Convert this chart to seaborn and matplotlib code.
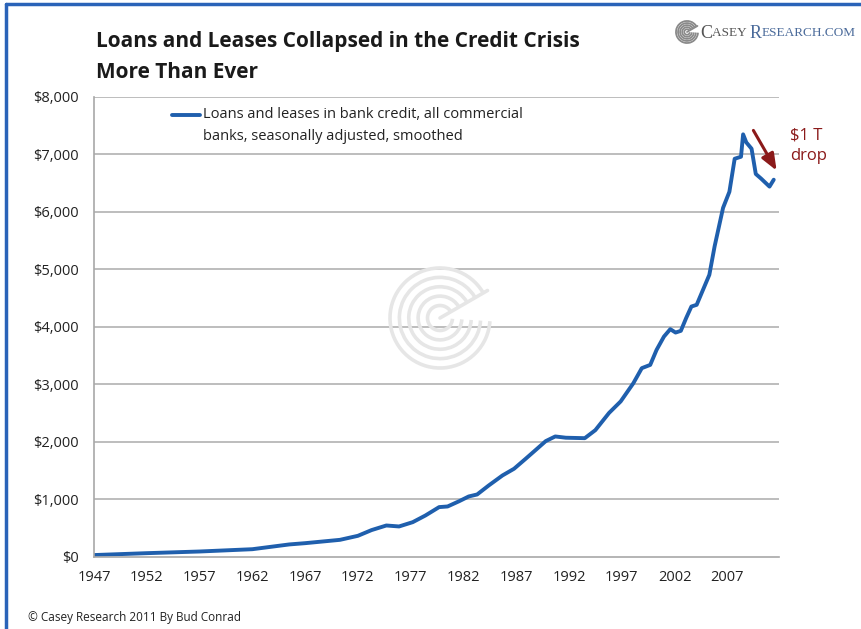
import numpy as np
import pandas as pd
import matplotlib
matplotlib.use("Agg")
import matplotlib.pyplot as plt
from matplotlib.patches import Arc, FancyArrowPatch
from matplotlib.lines import Line2D
import seaborn as sns

# Loans and leases in bank credit, all commercial banks ($ billions)
years = [1947, 1952, 1957, 1962, 1965.5, 1967, 1970.3, 1972, 1973.3, 1974.7,
         1975.9, 1977.2, 1978.4, 1979.7, 1980.5, 1981.6, 1982.5, 1983.3, 1984.4,
         1985.7, 1986.8, 1987.9, 1988.8, 1989.8, 1990.7, 1991.7, 1993.5, 1994.5,
         1995.8, 1996.9, 1998.1, 1998.9, 1999.7, 2000.3, 2001.0, 2001.6, 2002.1,
         2002.6, 2003.1, 2003.6, 2004.1, 2004.7, 2005.3, 2005.8, 2006.6, 2007.2,
         2007.7, 2008.3, 2008.5, 2008.8, 2009.3, 2009.7, 2010.2, 2011.0, 2011.4]
loans = [25, 58, 87, 127, 210, 232, 290, 360, 460, 540,
         523, 598, 714, 860, 871, 963, 1045, 1080, 1237,
         1411, 1528, 1702, 1847, 2009, 2090, 2068, 2060, 2200,
         2500, 2700, 3017, 3279, 3336, 3597, 3829, 3958, 3899,
         3929, 4150, 4352, 4382, 4643, 4904, 5400, 6070, 6350,
         6925, 6960, 7350, 7210, 7100, 6660, 6580, 6440, 6560]

x_ticks = list(range(1947, 2008, 5))
y_ticks = list(range(0, 8001, 1000))

title_lines = ["Loans and Leases Collapsed in the Credit Crisis", "More Than Ever"]
legend_text = ["Loans and leases in bank credit, all commercial",
               "banks, seasonally adjusted, smoothed"]
note_text = "$1 T\ndrop"
footer = "\u00a9 Casey Research 2011 By Bud Conrad"

df = pd.DataFrame({"year": years, "loans": loans})

sns.set_theme(style="white")
plt.rcParams["font.family"] = ["Open Sans", "DejaVu Sans"]

W, H = 862, 629
fig = plt.figure(figsize=(W / 100, H / 100), dpi=100)
fig.patch.set_facecolor("white")

def fx(px):
    return px / W

def fy(py):
    return 1 - py / H

ax = fig.add_axes([fx(94), fy(556.5), fx(779) - fx(94), fy(97) - fy(556.5)])

line_color = "#1f5fad"
sns.lineplot(data=df, x="year", y="loans", ax=ax, color=line_color,
             linewidth=2.8, legend=False)

ax.set_xlim(1947, 2011.9)
ax.set_ylim(0, 8000)
ax.set_xticks(x_ticks)
ax.set_xticklabels([str(t) for t in x_ticks])
ax.set_yticks(y_ticks)
ax.set_yticklabels(["$0"] + [f"${v:,}" for v in y_ticks[1:]])
ax.set_xlabel("")
ax.set_ylabel("")

for v in y_ticks[1:]:
    ax.axhline(v, color="#bdbdbd", linewidth=1.4, zorder=0)

for side in ["top", "right"]:
    ax.spines[side].set_visible(False)
for side in ["left", "bottom"]:
    ax.spines[side].set_color("#a8a8a8")
    ax.spines[side].set_linewidth(1.2)

ax.tick_params(axis="both", which="major", direction="out", length=5,
               width=1, color="#a8a8a8", labelsize=10.5, labelcolor="#222222")
ax.tick_params(axis="x", pad=5)
ax.tick_params(axis="y", pad=6)

# legend entry
ax.add_line(Line2D([fx(172), fx(200)], [fy(115), fy(115)], transform=fig.transFigure,
                   color=line_color, linewidth=2.8))
fig.text(fx(203), fy(115), legend_text[0], fontsize=10.5, color="#222222",
         va="center", ha="left")
fig.text(fx(203), fy(136), legend_text[1], fontsize=10.5, color="#222222",
         va="center", ha="left")

# drop annotation
dark_red = "#8b1a1a"
fig.patches.append(FancyArrowPatch(
    (fx(752), fy(128)), (fx(778), fy(173)), transform=fig.transFigure,
    arrowstyle="-|>,head_length=10,head_width=4", color=dark_red, linewidth=2.2,
    mutation_scale=1))
fig.text(fx(790), fy(146), note_text, fontsize=12, color=dark_red,
         va="center", ha="left", linespacing=1.35)

# title
fig.text(fx(96), fy(42), title_lines[0], fontsize=15, fontweight="bold",
         color="#1a1a1a", va="center", ha="left")
fig.text(fx(96), fy(72), title_lines[1], fontsize=15, fontweight="bold",
         color="#1a1a1a", va="center", ha="left")

# footer
fig.text(fx(28), fy(617), footer, fontsize=8.5, color="#222222",
         va="center", ha="left")

# frame lines along top and left edges
fig.add_artist(Line2D([fx(6), fx(W)], [fy(4), fy(4)], transform=fig.transFigure,
                      color="#2a63b8", linewidth=2.5))
fig.add_artist(Line2D([fx(6), fx(6)], [fy(4), fy(H)], transform=fig.transFigure,
                      color="#2a63b8", linewidth=2.5))

# spiral emblem helper
def emblem(cx, cy, r, color, lw, gap_angle=40):
    radii = np.linspace(r * 0.25, r, 5)
    for rr in radii:
        arc = Arc((fx(cx), fy(cy)), 2 * rr / W, 2 * rr / H, theta1=gap_angle,
                  theta2=360 - 5, transform=fig.transFigure, color=color,
                  linewidth=lw)
        fig.add_artist(arc)
    fig.add_artist(Line2D([fx(cx), fx(cx + r * 0.95)], [fy(cy), fy(cy - r * 0.55)],
                          transform=fig.transFigure, color=color, linewidth=lw))

# watermark in the middle of the plot
emblem(440, 318, 50, "#e6e6e6", 2.6)

# brand mark
emblem(687, 32, 11, "#8a8a8a", 1.3)
brand = fig.text(fx(700), fy(33), "C", fontsize=13, family="Liberation Serif",
                 color="#555555", va="center", ha="left")
fig.canvas.draw()
r = fig.canvas.get_renderer()

def place(prev, txt, size, color):
    bb = prev.get_window_extent(renderer=r)
    t = fig.text(bb.x1 / W, fy(33), txt, fontsize=size, family="Liberation Serif",
                 color=color, va="center", ha="left")
    return t

t = place(brand, "ASEY ", 9.5, "#555555")
t = place(t, "R", 13, "#4a6a9a")
t = place(t, "ESEARCH.COM", 9.5, "#4a6a9a")

fig.savefig("out.png", dpi=100, facecolor="white")
